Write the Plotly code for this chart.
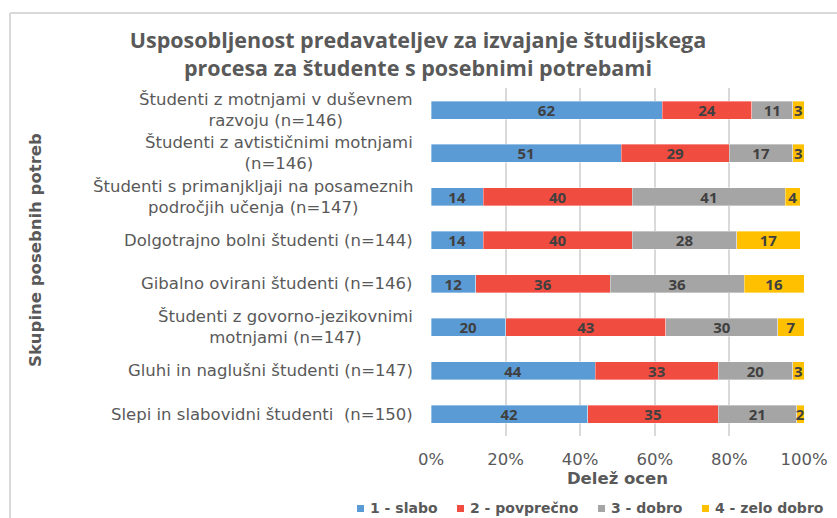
import plotly.graph_objects as go

categories = [
    "Študenti z motnjami v duševnem<br>razvoju (n=146)",
    "Študenti z avtističnimi motnjami<br>(n=146)",
    "Študenti s primanjkljaji na posameznih<br>področjih učenja (n=147)",
    "Dolgotrajno bolni študenti (n=144)",
    "Gibalno ovirani študenti (n=146)",
    "Študenti z govorno-jezikovnimi<br>motnjami (n=147)",
    "Gluhi in naglušni študenti (n=147)",
    "Slepi in slabovidni študenti  (n=150)",
]
series_names = ["1 - slabo", "2 - povprečno", "3 - dobro", "4 - zelo dobro"]
slabo = [62, 51, 14, 14, 12, 20, 44, 42]
povprecno = [24, 29, 40, 40, 36, 43, 33, 35]
dobro = [11, 17, 41, 28, 36, 30, 20, 21]
zelo_dobro = [3, 3, 4, 17, 16, 7, 3, 2]
colors = ["#5B9BD5", "#F14C40", "#A5A5A5", "#FFC000"]
x_ticks = [0, 20, 40, 60, 80, 100]
x_tick_labels = ["0%", "20%", "40%", "60%", "80%", "100%"]
title_text = "Usposobljenost predavateljev za izvajanje študijskega<br>procesa za študente s posebnimi potrebami"

FONT = "DejaVu Sans"
TXT = "#595959"
fig = go.Figure()
for name, vals, col in zip(series_names, [slabo, povprecno, dobro, zelo_dobro], colors):
    fig.add_trace(go.Bar(
        y=categories, x=vals, name=name, orientation="h",
        marker=dict(color=col, line=dict(color="rgba(255,255,255,0.6)", width=0.6)),
        text=[str(v) for v in vals], textposition="inside", insidetextanchor="middle",
        textangle=0, constraintext="none", cliponaxis=False,
        textfont=dict(family="Open Sans", size=15, color="#404040", weight="bold"),
        hoverinfo="skip", showlegend=False,
    ))

L, R, T, B = 431, 33, 88, 82
W, H = 837, 518
pw, ph = W - L - R, H - T - B

def px_x(p):
    return (p - L) / pw

def px_y(p):
    return (H - B - p) / ph

shapes = [
    dict(type="line", xref="paper", yref="paper", x0=px_x(10), x1=px_x(900), y0=px_y(13), y1=px_y(13),
         line=dict(color="#D9D9D9", width=2)),
    dict(type="line", xref="paper", yref="paper", x0=px_x(10), x1=px_x(10), y0=px_y(13), y1=px_y(600),
         line=dict(color="#D9D9D9", width=2)),
]

annotations = [dict(text="Skupine posebnih potreb", textangle=-90, xref="paper", yref="paper",
                    x=px_x(35), y=px_y(250), xanchor="center", yanchor="middle", showarrow=False,
                    font=dict(family=FONT, size=16.5, color=TXT, weight="bold"))]
for c in categories:
    annotations.append(dict(text=c, xref="paper", yref="y", x=px_x(415), y=c, xanchor="right",
                            yanchor="middle", align="center", showarrow=False,
                            font=dict(family=FONT, size=16.5, color=TXT)))

# legend (square swatch + label), positioned like the reference
legend_x = [357, 457, 598, 702]
for name, col, lx in zip(series_names, colors, legend_x):
    shapes.append(dict(type="rect", xref="paper", yref="paper",
                       x0=px_x(lx), x1=px_x(lx + 7), y0=px_y(512), y1=px_y(505),
                       fillcolor=col, line=dict(width=0)))
    annotations.append(dict(text=name, xref="paper", yref="paper", x=px_x(lx + 11), y=px_y(508),
                            xanchor="left", yanchor="middle", showarrow=False,
                            font=dict(family=FONT, size=14, color=TXT, weight="bold")))

fig.update_layout(
    width=W, height=H,
    margin=dict(l=L, r=R, t=T, b=B, autoexpand=False),
    paper_bgcolor="white", plot_bgcolor="white",
    barmode="stack", bargap=0.586,
    showlegend=False,
    title=dict(text=title_text, x=418 / W, xanchor="center", y=1 - 48 / H, yanchor="middle",
               font=dict(family="Open Sans", size=21.5, color=TXT, weight="bold")),
    xaxis=dict(range=[0, 100], tickvals=x_ticks, ticktext=x_tick_labels, showgrid=True,
               gridcolor="#D9D9D9", gridwidth=2, zeroline=False, showline=False,
               ticks="outside", ticklen=8, tickcolor="rgba(0,0,0,0)", automargin=False,
               tickfont=dict(family=FONT, size=16.5, color=TXT),
               title=dict(text="Delež ocen", standoff=2,
                          font=dict(family=FONT, size=16.5, color=TXT, weight="bold"))),
    yaxis=dict(categoryorder="array", categoryarray=categories, autorange="reversed",
               showgrid=False, showline=False, zeroline=False, showticklabels=False,
               automargin=False),
    shapes=shapes,
    annotations=annotations,
)
fig.write_html("out.html", config={"displayModeBar": False},
               post_script="document.body.style.margin='0';document.body.style.padding='0';")
